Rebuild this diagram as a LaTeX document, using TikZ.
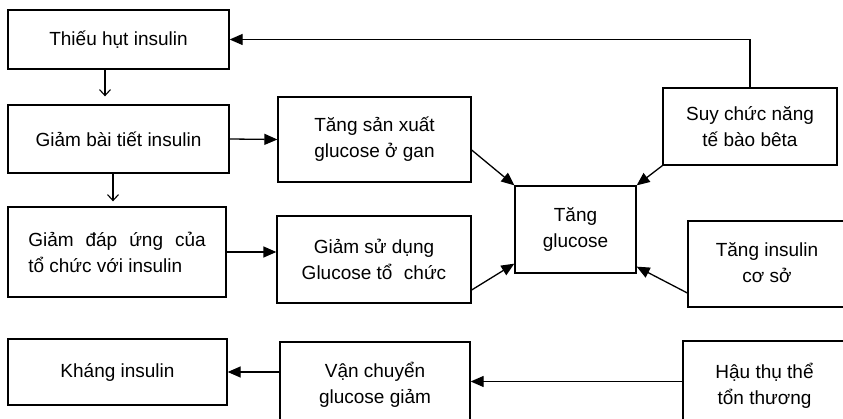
\documentclass[tikz,border=0pt]{standalone}
\usepackage{fontspec}
\setmainfont{Liberation Sans}
\usetikzlibrary{arrows.meta}
\begin{document}
\begin{tikzpicture}[x=1pt,y=-1pt,
  box/.style={draw, line width=1.3pt, align=center, inner sep=0pt, font=\fontsize{19}{26}\selectfont},
  conn/.style={line width=1.3pt, -{Triangle[length=13pt,width=11pt]}},
  downarrow/.style={line width=1.1pt, -{Straight Barb[length=6pt,width=11pt]}}]
\useasboundingbox (0,0) rectangle (843,419);
\fill[white] (0,0) rectangle (843,419);
\clip (0,0) rectangle (843,419);

\node[box, minimum width=221pt, minimum height=59pt] (b1) at (118.5,39.5) {Thiếu hụt insulin};
\node[box, minimum width=221pt, minimum height=68pt] (b2) at (118.5,139) {Giảm bài tiết insulin};
\node[box, align=left, minimum width=218pt, minimum height=90pt] (b3) at (117,252) {Giảm\hspace{0.63em}đáp\hspace{0.63em}ứng\hspace{0.63em}của\\tổ chức với insulin};
\node[box, minimum width=193pt, minimum height=85pt] (b4) at (374.5,139.5) {Tăng sản xuất\\glucose ở gan};
\node[box, minimum width=194pt, minimum height=87pt] (b5) at (374,259.5) {Giảm sử dụng\\Glucose tổ\hspace{0.6em}chức};
\node[box, minimum width=121pt, minimum height=87pt] (b6) at (575.5,229.5) {Tăng\\glucose};
\node[box, minimum width=174pt, minimum height=77pt] (b7) at (750,126.5) {Suy chức năng\\tế bào bêta};
\node[box, minimum width=158pt, minimum height=86pt] (b8) at (767,264) {\raisebox{-6pt}{\begin{tabular}{@{}c@{}}Tăng insulin\\cơ sở\end{tabular}}};
\node[box, minimum width=163pt, minimum height=89pt] (b9) at (764.5,385.5) {Hậu thụ thể\\tổn thương};
\node[box, minimum width=190pt, minimum height=86pt] (b10) at (375,385) {Vận chuyển\\glucose giảm};
\node[box, minimum width=219pt, minimum height=66pt] (b11) at (117.5,372) {Kháng insulin};

\draw[downarrow, shorten >=8pt] ([xshift=-13.5pt]b1.south) -- ([xshift=-13.5pt]b1.south |- b2.north);
\draw[downarrow, shorten >=5pt] ([xshift=-5.5pt]b2.south) -- ([xshift=-5.5pt]b2.south |- b3.north);
\draw[conn] (b2.east) -- (b4.west);
\draw[conn] (b3.east) -- (b3.east -| b5.west);
\draw[conn] ([yshift=-10.5pt]b4.east) -- (b6.north west);
\draw[conn] ([yshift=-30.5pt]b5.east) -- ([yshift=10pt]b6.south west);
\draw[conn] (b7.south west) -- (b6.north east);
\draw[conn] (b7.north) |- (b1.east);
\draw[conn] ([yshift=-29pt]b8.west) -- ([yshift=7pt]b6.south east);
\draw[conn] ([yshift=4pt]b9.west) -- ([yshift=4pt]b9.west -| b10.east);
\draw[conn] (b10.west |- b11.east) -- (b11.east);
\end{tikzpicture}
\end{document}
